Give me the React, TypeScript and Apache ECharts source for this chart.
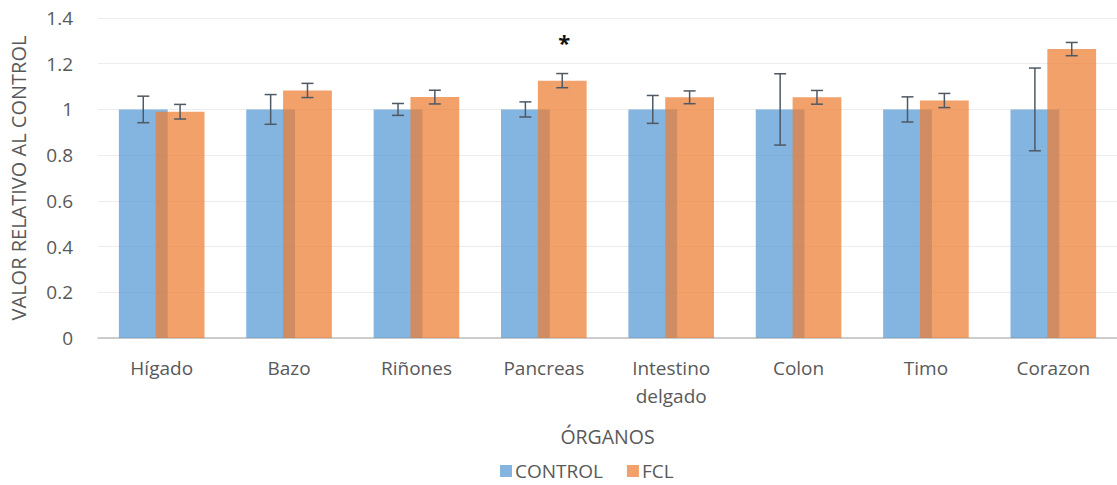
import React, { useEffect, useRef } from "react";
import * as echarts from "echarts";

// Organ categories and relative values (control = 1)
const organs = ["Hígado", "Bazo", "Riñones", "Pancreas", "Intestino\ndelgado", "Colon", "Timo", "Corazon"];
const controlValues = [1, 1, 1, 1, 1, 1, 1, 1];
const controlErrors = [0.058, 0.065, 0.026, 0.033, 0.061, 0.156, 0.055, 0.181];
const fclValues = [0.99, 1.083, 1.054, 1.126, 1.053, 1.053, 1.039, 1.264];
const fclErrors = [0.032, 0.031, 0.03, 0.031, 0.028, 0.03, 0.031, 0.029];
const fclMarks = ["", "", "", "*", "", "", "", ""];
const yTicks = { min: 0, max: 1.4, interval: 0.2 };

const FONT = "'Open Sans', sans-serif";
const TEXT = "#595959";
const BAR_W = 0.383; // fraction of the category band
const BAR_GAP = -0.245; // fraction of a bar width
const OFFSET = (BAR_W * (2 + BAR_GAP)) / 2 - BAR_W / 2;

function errorSeries(name: string, values: number[], errors: number[], marks: string[], side: number) {
  return {
    type: "custom",
    name,
    z: 5,
    silent: true,
    data: values.map((v, i) => [i, v, errors[i]]),
    renderItem: (params: any, api: any) => {
      const idx = api.value(0);
      const v = api.value(1);
      const e = api.value(2);
      const mark = marks[idx];
      const band = api.size([1, 0])[0];
      const center = api.coord([idx, v]);
      const x = center[0] + side * OFFSET * band;
      const top = api.coord([idx, v + e])[1];
      const bot = api.coord([idx, v - e])[1];
      const cap = 6;
      const style = { stroke: "#4f5964", lineWidth: 1.5 };
      const children: any[] = [
        { type: "line", shape: { x1: x, y1: top, x2: x, y2: bot }, style },
        { type: "line", shape: { x1: x - cap, y1: top, x2: x + cap, y2: top }, style },
        { type: "line", shape: { x1: x - cap, y1: bot, x2: x + cap, y2: bot }, style },
      ];
      if (mark) {
        children.push({
          type: "text",
          x: x + 2,
          y: top - 32,
          style: {
            text: mark,
            fill: "#111",
            font: `bold 22px ${FONT}`,
            align: "center",
            verticalAlign: "middle",
          },
        });
      }
      return { type: "group", children };
    },
  };
}

export default function App() {
  const ref = useRef<HTMLDivElement>(null);

  useEffect(() => {
    document.body.style.margin = "0";
    if (!ref.current) return;
    const chart = echarts.init(ref.current, null, { renderer: "svg" });
    chart.setOption({
      animation: false,
      backgroundColor: "#ffffff",
      textStyle: { fontFamily: FONT },
      grid: { left: 97.6, right: -3.6, top: 18, bottom: 147, containLabel: false },
      legend: {
        top: 461,
        left: 500,
        padding: 0,
        icon: "rect",
        itemWidth: 12,
        itemHeight: 12,
        itemGap: 24,
        textStyle: { color: TEXT, fontSize: 19, lineHeight: 20, fontFamily: FONT, padding: [0, 0, 0, -2] },
        data: ["CONTROL", "FCL"],
      },
      xAxis: {
        type: "category",
        data: organs,
        name: "ÓRGANOS",
        nameLocation: "middle",
        nameGap: 88,
        nameTextStyle: { color: TEXT, fontSize: 19.5, fontFamily: FONT },
        axisLine: { lineStyle: { color: "#bfbfbf", width: 1.5 } },
        axisTick: { show: false },
        axisLabel: { color: TEXT, fontSize: 19, margin: 16, lineHeight: 28, fontFamily: FONT },
      },
      yAxis: {
        type: "value",
        min: yTicks.min,
        max: yTicks.max,
        interval: yTicks.interval,
        name: "VALOR RELATIVO AL CONTROL",
        nameLocation: "middle",
        nameGap: 70,
        nameTextStyle: { color: TEXT, fontSize: 20, fontFamily: FONT },
        axisLine: { show: false },
        axisTick: { show: false },
        axisLabel: { color: TEXT, fontSize: 19, margin: 25, fontFamily: FONT },
        splitLine: { lineStyle: { color: "#ececec", width: 1 } },
      },
      series: [
        {
          type: "bar",
          name: "CONTROL",
          data: controlValues,
          barWidth: `${BAR_W * 100}%`,
          itemStyle: { color: "rgba(91,155,213,0.75)" },
        },
        {
          type: "bar",
          name: "FCL",
          data: fclValues,
          barWidth: `${BAR_W * 100}%`,
          barGap: `${BAR_GAP * 100}%`,
          itemStyle: { color: "rgba(237,125,49,0.72)" },
        },
        errorSeries("CONTROL-err", controlValues, controlErrors, [], -1),
        errorSeries("FCL-err", fclValues, fclErrors, fclMarks, 1),
      ],
    });
    return () => chart.dispose();
  }, []);

  return <div ref={ref} style={{ width: 1117, height: 485 }} />;
}
